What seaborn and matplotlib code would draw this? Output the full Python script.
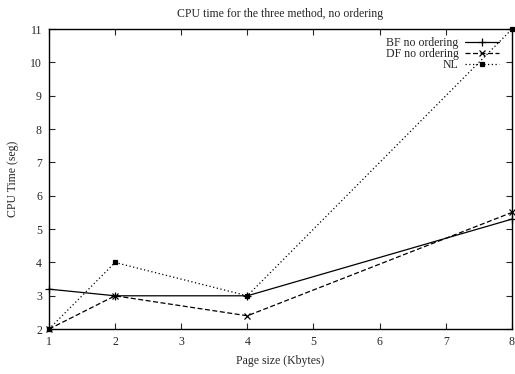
import matplotlib
matplotlib.use("Agg")
import matplotlib.pyplot as plt
import seaborn as sns
import pandas as pd

page_size = [1, 2, 4, 8]
bf_no_ordering = [3.2, 3.0, 3.0, 5.3]
df_no_ordering = [2.0, 3.0, 2.4, 5.5]
nl = [2.0, 4.0, 3.0, 11.0]
series_names = ["BF no ordering", "DF no ordering", "NL"]

data = pd.DataFrame({
    "Page size": page_size * 3,
    "CPU Time": bf_no_ordering + df_no_ordering + nl,
    "Method": [n for n in series_names for _ in page_size],
})

sns.set_style("ticks")
plt.rcParams["font.family"] = ["Liberation Serif", "DejaVu Serif"]
plt.rcParams["font.size"] = 8.5

fig = plt.figure(figsize=(5.15, 3.74), dpi=100)
ax = fig.add_axes([0.095, 0.120, 0.899, 0.802])

styles = {
    "BF no ordering": dict(ls="-", marker="+", ms=6),
    "DF no ordering": dict(ls=(0, (4, 2)), marker="x", ms=4.5),
    "NL": dict(ls=(0, (1, 2)), marker="s", ms=3),
}
for name in series_names:
    sub = data[data["Method"] == name]
    st = styles[name]
    sns.lineplot(data=sub, x="Page size", y="CPU Time", ax=ax, color="black",
                 linestyle=st["ls"], marker=st["marker"], markersize=st["ms"],
                 markeredgecolor="black", markerfacecolor="black",
                 markeredgewidth=0.9, linewidth=0.9, label=name, clip_on=False)

ax.set_xlim(1, 8)
ax.set_ylim(2, 11)
ax.set_xticks(range(1, 9))
ax.set_yticks(range(2, 12))
ax.tick_params(direction="in", top=True, right=True, length=4, width=0.8, pad=5, labelsize=8.5)
for s in ax.spines.values():
    s.set_linewidth(1.0)
    s.set_color("black")

ax.set_title("CPU time for the three method, no ordering", fontsize=8.5, pad=9)
ax.set_xlabel("Page size (Kbytes)", fontsize=8.5, labelpad=5)
ax.set_ylabel("CPU Time (seg)", fontsize=8.5, labelpad=8)

leg = ax.legend(loc="upper right", bbox_to_anchor=(0.989, 1.0), frameon=False,
                markerfirst=False, fontsize=8.5,
                handlelength=2.8, borderaxespad=0.3, borderpad=0.4,
                labelspacing=-0.1, handletextpad=0.6)
for t in leg.get_texts():
    t.set_ha("right")
leg._legend_box.align = "right"

fig.savefig("out.png", dpi=100)
